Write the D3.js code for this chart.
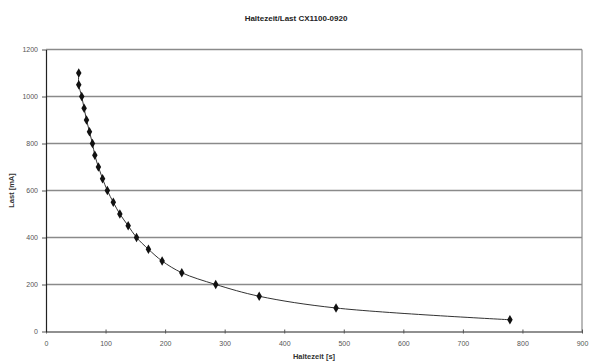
<!DOCTYPE html>
<html><head><meta charset="utf-8">
<script src="https://cdn.jsdelivr.net/npm/d3@7"></script>
<style>body{margin:0;background:#fff;}svg{display:block;font-family:"Liberation Sans",Arial,sans-serif;}</style>
</head><body><div id="c"></div>
<script>
const title = "Haltezeit/Last CX1100-0920";
const xLabel = "Haltezeit [s]";
const yLabel = "Last [mA]";
const holdTimes = [55, 55, 60, 64, 68, 73, 78, 82, 88, 95, 103, 113, 124, 138, 152, 172, 195, 228, 285, 358, 487, 779];
const loads = [1100, 1050, 1000, 950, 900, 850, 800, 750, 700, 650, 600, 550, 500, 450, 400, 350, 300, 250, 200, 150, 100, 50];
const xTicks = [0, 100, 200, 300, 400, 500, 600, 700, 800, 900];
const yTicks = [0, 200, 400, 600, 800, 1000, 1200];

const W = 592, H = 363;
const m = {left: 46, right: 10, top: 49.5, bottom: 31.5};
const svg = d3.select("#c").append("svg").attr("width", W).attr("height", H);
const x = d3.scaleLinear().domain([0, 900]).range([m.left, W - m.right]);
const y = d3.scaleLinear().domain([0, 1200]).range([H - m.bottom, m.top]);

// gridlines
svg.append("g").selectAll("line").data(yTicks.filter(d => d > 0)).join("line")
  .attr("x1", x(0)).attr("x2", x(900)).attr("y1", d => y(d)).attr("y2", d => y(d))
  .attr("stroke", "#8a8a8a").attr("stroke-width", 1.3);
// right border
svg.append("line").attr("x1", x(900)).attr("x2", x(900)).attr("y1", y(0)).attr("y2", y(1200))
  .attr("stroke", "#8a8a8a").attr("stroke-width", 1.2);

const fmt = d3.format("d");
const gx = svg.append("g").attr("transform", `translate(0,${y(0)})`)
  .call(d3.axisBottom(x).tickValues(xTicks).tickFormat(fmt).tickSize(3).tickSizeOuter(0));
const gy = svg.append("g").attr("transform", `translate(${x(0)},0)`)
  .call(d3.axisLeft(y).tickValues(yTicks).tickFormat(fmt).tickSize(4).tickSizeOuter(0));
[gx, gy].forEach(g => {
  g.select(".domain").attr("stroke", "#222").attr("stroke-width", 1.2);
  g.selectAll(".tick line").attr("stroke", "#555");
  g.selectAll("text").attr("font-size", 7).attr("fill", "#555");
});
gx.selectAll(".tick line").attr("y1", -2).attr("y2", 2);
gx.selectAll("text").attr("dy", "1.2em");
gy.selectAll("text").attr("dx", "-1px");

const pts = holdTimes.map((t, i) => [t, loads[i]]);
svg.append("path").datum(pts)
  .attr("d", d3.line().x(d => x(d[0])).y(d => y(d[1])).curve(d3.curveCatmullRom.alpha(0.5)))
  .attr("fill", "none").attr("stroke", "#333").attr("stroke-width", 1);
svg.append("g").selectAll("path").data(pts).join("path")
  .attr("transform", d => `translate(${x(d[0])},${y(d[1])})`)
  .attr("d", d3.symbol(d3.symbolDiamond, 26))
  .attr("fill", "#111");

svg.append("text").attr("x", 296).attr("y", 21).attr("text-anchor", "middle")
  .attr("font-size", 8).attr("font-weight", "bold").attr("fill", "#222").text(title);
svg.append("text").attr("x", (x(0) + x(900)) / 2).attr("y", 359).attr("text-anchor", "middle")
  .attr("font-size", 7.5).attr("font-weight", "bold").attr("fill", "#333").text(xLabel);
svg.append("text").attr("transform", `translate(14,${(y(0) + y(1200)) / 2}) rotate(-90)`)
  .attr("text-anchor", "middle").attr("font-size", 7.5).attr("font-weight", "bold").attr("fill", "#333").text(yLabel);
</script></body></html>
